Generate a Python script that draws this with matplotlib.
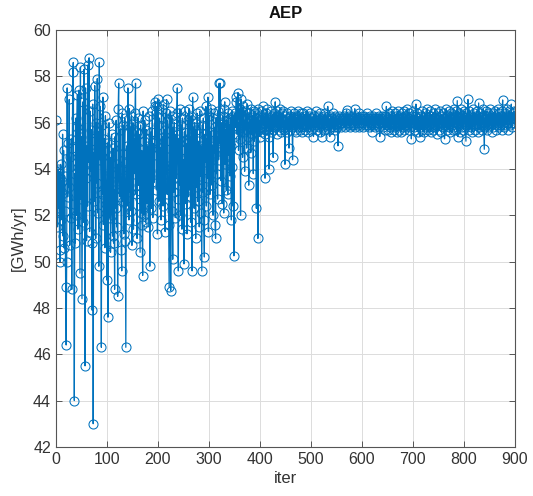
import matplotlib
matplotlib.use("Agg")
import matplotlib.pyplot as plt
import numpy as np

# AEP per iteration (iter 1..900)
aep_early = [
    56.1, 53.0, 51.5, 54.0, 52.3, 53.9, 50.5, 50.0, 54.2, 51.8,
    53.5, 52.9, 55.5, 51.1, 54.8, 50.6, 53.7, 52.2, 48.9, 46.4,
    50.0, 57.5, 52.8, 55.1, 53.2, 57.0, 50.7, 54.5, 51.9, 55.3,
    48.8, 54.9, 58.2, 58.6, 52.5, 44.0, 53.8, 50.8, 56.2, 52.0,
    55.8, 57.2, 51.4, 54.1, 57.4, 53.3, 49.5, 58.4, 52.7, 55.4,
    48.4, 53.1, 56.9, 51.7, 58.3, 54.6, 45.5, 57.5, 53.6, 50.9,
    55.0, 52.4, 58.5, 54.3, 58.8, 51.3, 56.5, 53.9, 55.7, 50.8,
    47.9, 56.8, 43.0, 54.7, 52.6, 57.6, 55.2, 51.0, 56.0, 53.4,
    57.9, 52.1, 55.6, 49.8, 58.6, 54.4, 56.7, 53.0, 46.3, 55.9,
    52.9, 57.1, 51.6, 54.8, 55.3, 50.6, 56.3, 53.7, 52.5, 49.2,
    55.1, 47.6, 53.2, 56.0, 51.9, 54.5, 50.4, 53.8, 55.5, 52.0,
    51.1, 54.9, 50.8, 53.1, 48.8, 55.4, 52.3, 56.1, 51.5, 54.2,
    48.5, 56.6, 57.7, 53.5, 52.8, 55.7, 54.0, 50.5, 49.6, 56.4,
    52.6, 55.9, 51.2, 54.7, 56.2, 50.9, 46.3, 53.6, 55.0, 52.4,
    57.5, 54.3, 51.8, 56.6, 53.0, 55.8, 52.2, 56.3, 50.7, 54.6,
    56.0, 51.4, 55.3, 53.8, 56.4, 57.7, 52.9, 55.6, 51.0, 54.1,
    56.2, 53.3, 55.5, 52.7, 50.4, 55.9, 52.1, 54.8, 51.6, 49.4,
    56.5, 55.2, 52.0, 56.1, 54.4, 51.7, 55.7, 53.0, 52.5, 55.0,
    51.5, 54.0, 56.3, 49.8, 53.9, 55.6, 52.3, 54.9, 56.5, 51.9,
    55.1, 53.4, 54.6, 56.7, 56.9, 55.2, 53.1, 56.7, 51.2, 57.0,
    55.9, 52.6, 56.2, 53.7, 54.9, 51.8, 56.6, 53.2, 55.4, 52.4,
    56.8, 54.1, 55.7, 51.3, 56.4, 53.8, 57.0, 52.9, 56.1, 54.5,
    51.6, 48.9, 55.2, 56.5, 48.75, 54.0, 56.3, 52.2, 50.1, 55.8,
    53.0, 56.0, 54.7, 51.9, 55.5, 53.6, 56.4, 57.5, 52.7, 49.6,
    55.3, 53.3, 56.6, 52.0, 54.8, 55.9, 51.4, 56.2, 53.5, 54.4,
    49.9, 55.6, 53.9, 56.5, 52.5, 55.1, 51.2, 56.1, 54.2, 52.8,
    56.6, 53.1, 55.4, 51.7, 56.3, 54.6, 49.6, 57.1, 53.4, 55.8,
    52.3, 56.0, 54.0, 51.0, 55.7, 53.2, 56.4, 52.6, 55.2, 54.5,
    51.5, 56.5, 53.7, 55.0, 52.1, 49.6, 55.9, 53.0, 56.2, 51.8,
    50.2, 55.5, 54.3, 56.7, 52.4, 55.3, 53.6, 57.1, 51.3, 54.9,
    56.3, 52.9, 55.6, 54.1, 56.6, 53.3, 55.0, 52.0, 56.4, 54.7,
    55.8, 51.6, 51.0, 56.2, 53.8, 55.4, 52.7, 56.5, 54.4, 57.7,
    55.1, 57.7, 53.5, 56.0, 54.9, 52.5, 56.3, 55.5, 52.1, 56.6,
    56.9, 54.2, 55.7, 53.1, 56.1, 55.2, 52.9, 56.4, 54.6, 55.9,
    53.7, 56.2, 55.0, 51.8, 56.5, 54.1, 52.4, 56.3, 50.25, 55.4,
]

aep_transition = [
    56.4, 55.8, 56.9, 57.1, 55.5, 56.2, 57.3, 54.8, 56.0, 55.3,
    56.6, 52.0, 57.0, 55.9, 56.3, 54.5, 56.7, 55.6, 56.1, 53.9,
    56.5, 55.7, 56.2, 54.9, 56.8, 55.4, 56.0, 53.3, 56.4, 55.8,
    56.1, 54.7, 56.6, 55.5, 56.3, 55.9, 53.8, 56.5, 55.2, 56.0,
    56.4, 55.6, 52.3, 56.2, 55.9, 51.0, 56.6, 55.7, 56.1, 55.4,
]

aep_settling = [
    56.3, 55.8, 56.5, 55.6, 56.1, 56.7, 55.9, 56.2, 55.5, 53.6,
    56.4, 55.7, 56.0, 56.6, 55.8, 56.3, 55.4, 54.0, 56.2, 55.9,
    56.5, 55.6, 56.1, 56.3, 55.7, 54.5, 56.0, 56.4, 55.8, 56.9,
    56.2, 55.9, 56.5, 55.5, 56.1, 56.3, 55.7, 56.0, 56.6, 55.8,
    56.2, 55.6, 56.4, 55.9, 56.1, 56.5, 55.7, 56.0, 54.2, 56.3,
    55.8, 56.1, 56.4, 55.6, 56.2, 55.9, 54.9, 56.3, 55.7, 56.0,
    56.5, 55.8, 56.1, 54.4, 56.2, 55.9, 56.4, 55.7, 56.0, 56.3,
    55.6, 56.2, 55.9, 56.5, 55.8, 56.1, 56.3, 55.7, 56.0, 56.4,
    55.8, 56.2, 55.6, 56.1, 56.4, 55.9, 56.0, 56.3, 55.7, 56.2,
    55.9, 56.5, 55.8, 56.1, 55.6, 56.3, 56.0, 55.8, 56.4, 56.1,
    55.7, 56.2, 55.9, 56.0, 55.4, 56.3, 55.8, 56.1, 56.5, 55.9,
    56.2, 55.7, 56.0, 56.3, 55.8, 56.1, 55.6, 56.4, 56.0, 55.9,
    55.4, 56.2, 55.8, 56.1, 56.3, 55.7, 56.0, 56.4, 55.9, 56.2,
    55.8, 56.0, 56.7, 55.9, 56.2, 55.7, 55.4, 56.1, 56.3, 55.8,
    56.0, 56.2, 55.9, 56.4, 55.8, 56.1, 55.7, 56.3, 56.0, 55.9,
    56.2, 55.8, 55.0, 56.1, 56.3, 55.9, 56.0, 56.2, 55.8, 56.1,
]

aep_steady = [
    56.0, 56.2, 55.9, 56.3, 56.1, 55.8, 56.2, 56.0, 56.4, 56.55,
    56.1, 55.9, 56.2, 56.0, 56.3, 55.8, 56.1, 56.2, 55.9, 56.0,
    56.3, 56.1, 55.9, 56.2, 56.0, 56.6, 55.8, 56.1, 56.3, 56.0,
    56.2, 55.9, 56.1, 56.4, 55.8, 56.0, 56.2, 56.1, 55.9, 56.3,
    56.0, 56.2, 55.8, 56.1, 56.3, 56.0, 55.9, 56.2, 56.1, 56.4,
    55.9, 56.1, 56.2, 55.8, 56.0, 56.3, 56.1, 55.9, 55.6, 56.2,
    56.0, 56.3, 55.9, 56.1, 56.2, 55.8, 56.0, 56.4, 56.1, 55.9,
    56.2, 56.0, 55.8, 56.3, 55.4, 56.1, 56.2, 55.9, 56.0, 56.3,
    55.8, 56.1, 56.2, 56.0, 55.7, 56.3, 56.1, 56.7, 55.9, 56.0,
]

aep_late = [
    56.2, 55.7, 56.4, 56.0, 55.8, 56.3, 55.6, 56.1, 56.5, 55.9,
    56.2, 55.7, 56.0, 56.4, 55.8, 56.1, 56.3, 55.6, 56.2, 55.9,
    56.5, 56.0, 55.7, 56.3, 55.9, 56.1, 55.6, 56.4, 56.0, 55.8,
    56.2, 56.5, 55.7, 56.1, 55.9, 56.3, 55.8, 56.0, 56.6, 55.9,
    56.1, 55.7, 56.4, 56.0, 55.8, 56.2, 55.3, 56.3, 55.9, 56.1,
    56.5, 55.8, 56.0, 56.3, 55.7, 56.8, 56.1, 55.9, 56.4, 55.6,
    56.2, 56.0, 55.8, 55.4, 56.3, 56.1, 55.7, 56.5, 55.9, 56.2,
    56.0, 55.6, 56.4, 56.1, 55.8, 56.3, 55.9, 56.6, 55.7, 56.1,
    56.2, 55.8, 56.0, 56.5, 55.6, 56.3, 55.9, 56.1, 56.4, 55.7,
    56.0, 56.2, 55.8, 56.6, 55.9, 56.3, 55.5, 56.1, 56.0, 56.4,
    55.7, 56.2, 55.9, 56.5, 56.1, 55.6, 56.3, 56.0, 55.8, 56.4,
    56.1, 55.3, 56.2, 55.9, 56.6, 56.0, 55.7, 56.3, 56.1, 55.8,
    56.5, 56.0, 55.6, 56.2, 56.4, 55.9, 56.1, 55.7, 56.3, 56.6,
    55.8, 56.2, 56.0, 56.5, 55.7, 56.3, 56.95, 55.4, 56.1, 56.4,
    55.9, 56.2, 55.6, 56.6, 56.0, 55.8, 56.3, 56.1, 55.7, 56.5,
    56.0, 56.3, 55.8, 55.2, 56.4, 56.1, 55.9, 57.0, 56.2, 55.7,
    56.5, 56.0, 55.8, 56.3, 56.1, 55.6, 56.6, 55.9, 56.2, 56.4,
    55.7, 56.1, 56.3, 55.9, 56.5, 56.0, 55.6, 56.2, 56.85, 55.8,
    56.1, 56.4, 55.9, 56.2, 55.7, 56.3, 56.0, 56.6, 55.8, 54.85,
    56.2, 56.0, 56.5, 55.9, 56.3, 55.7, 56.1, 56.4, 55.8, 56.2,
    56.0, 56.6, 55.9, 56.3, 55.6, 56.1, 56.4, 55.8, 56.2, 56.0,
    56.5, 55.7, 56.3, 56.1, 55.9, 56.6, 56.0, 55.8, 56.4, 56.2,
    55.9, 56.3, 56.1, 55.7, 56.5, 56.98, 56.0, 56.2, 55.8, 56.4,
    56.1, 55.9, 56.3, 56.6, 56.0, 55.7, 56.2, 56.5, 56.1, 55.9,
    56.3, 56.0, 56.8, 56.2, 55.8, 56.4, 56.1, 56.5, 56.0, 56.2,
]

x_ticks = [0, 100, 200, 300, 400, 500, 600, 700, 800, 900]
y_ticks = [42, 44, 46, 48, 50, 52, 54, 56, 58, 60]
title = "AEP"
x_label = "iter"
y_label = "[GWh/yr]"

aep = np.array(aep_early + aep_transition + aep_settling + aep_steady + aep_late)
iters = np.arange(1, len(aep) + 1)

plt.rcParams['font.family'] = ['Liberation Sans', 'DejaVu Sans']

fig = plt.figure(figsize=(5.33, 4.96), dpi=100)
ax = fig.add_axes([0.105, 0.099, 0.861, 0.8405])

ax.plot(iters, aep, '-o', color='#0072BD', lw=0.9, markersize=6.5,
        markerfacecolor='none', markeredgewidth=0.75)

ax.set_xlim(0, 900)
ax.set_ylim(42, 60)
ax.set_xticks(x_ticks)
ax.set_yticks(y_ticks)
ax.grid(True, color='#dcdcdc', lw=0.7)
ax.set_axisbelow(True)
ax.tick_params(direction='in', length=4, width=0.7, colors='#555555',
               labelcolor='#333333', labelsize=11.5, top=True, right=True)
for s in ax.spines.values():
    s.set_color('#555555')
    s.set_linewidth(0.8)

ax.set_title(title, fontsize=12, fontweight='bold', color='#111111', pad=9)
ax.set_xlabel(x_label, fontsize=12, color='#333333', labelpad=3)
ax.set_ylabel(y_label, fontsize=12, color='#333333', labelpad=5)

fig.savefig("out.png", dpi=100)
